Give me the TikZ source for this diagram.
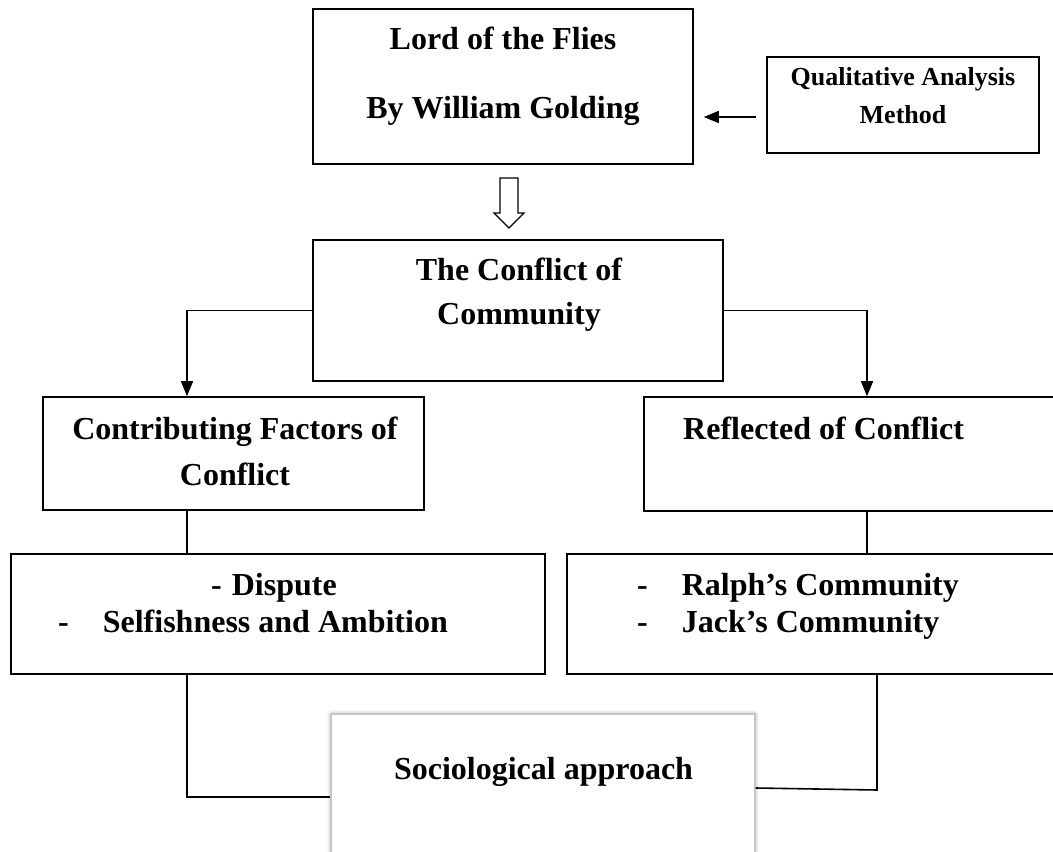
\documentclass[tikz,border=0pt]{standalone}
\usepackage{fontspec}
\setmainfont{Liberation Serif}
\usetikzlibrary{arrows.meta,shadows.blur}

\tikzset{
  box/.style={draw, line width=1.6pt, inner sep=0pt},
  big/.style={font=\fontsize{32}{38}\selectfont\bfseries, inner sep=0pt, anchor=base},
  small/.style={font=\fontsize{26}{30}\selectfont\bfseries, inner sep=0pt, anchor=base},
  arr/.style={line width=1.6pt, -{Triangle[length=15pt,width=12pt]}},
  conn/.style={line width=1.6pt}
}

\begin{document}
\begin{tikzpicture}[x=1pt,y=-1pt]
    \useasboundingbox (0,0) rectangle (1053,852);
    \clip (0,0) rectangle (1053,852);

    % Columns of the vertical connectors
    \coordinate (lcol) at (187,0);
    \coordinate (rcol) at (867,0);
    \coordinate (rcolb) at (877,0);

    % Boxes
    \node[box, minimum width=380, minimum height=155] (lord) at (503,86.5) {};
    \node[box, minimum width=272, minimum height=96] (qual) at (903,105) {};
    \node[box, minimum width=410, minimum height=141] (conflict) at (518,310.5) {};
    \node[box, minimum width=381, minimum height=113] (factors) at (233.5,453.5) {};
    \node[box, minimum width=426, minimum height=114] (reflected) at (857,454) {};
    \node[box, minimum width=534, minimum height=120] (leftlist) at (278,614) {};
    \node[box, minimum width=503, minimum height=120] (rightlist) at (818.5,614) {};
    \node[box, draw=gray!45, line width=1.5pt, fill=white,
          blur shadow={shadow xshift=0pt, shadow yshift=0pt, shadow blur radius=4pt},
          minimum width=424, minimum height=166] (socio) at (543,797) {};

    % Texts
    \node[big] (lordA) at (503,49) {Lord of the Flies};
    \node[big] (lordB) at (503,118) {By William Golding};
    \node[small] (qualA) at (903,85) {Qualitative Analysis};
    \node[small] (qualB) at (903,123) {Method};
    \node[big] (conflictA) at (519,280) {The Conflict of};
    \node[big] (conflictB) at (519,324) {Community};
    \node[big] (factorsA) at (235,439) {Contributing Factors of};
    \node[big] (factorsB) at (235,485) {Conflict};
    \node[big, anchor=base west] (reflectedA) at (683,439) {Reflected of Conflict};
    \node[big, anchor=base west] (leftlistA) at (211,595) {-\hspace{10pt}Dispute};
    \node[big, anchor=base west] (leftlistB) at (58,632) {-\hspace{34pt}Selfishness and Ambition};
    \node[big, anchor=base west] (rightlistA) at (637,595) {-\hspace{34pt}Ralph’s Community};
    \node[big, anchor=base west] (rightlistB) at (637,632) {-\hspace{34pt}Jack’s Community};
    \node[big] (socioA) at (543.5,779) {Sociological approach};

    % Arrows
    \draw[arr] ([xshift=-10pt,yshift=-12pt]qual.west) -- ([xshift=10pt,yshift=-12pt]qual.west -| lord.east);
    \coordinate (hollow) at (509,178);
    \draw[line width=1.2pt, fill=white] (hollow) ++(-9,0) -- ++(18,0) -- ++(0,35) -- ++(6,0)
        -- ++(-15,15) -- ++(-15,-15) -- ++(6,0) -- cycle;
    \draw[arr] (conflict.west) -| (lcol |- factors.north);
    \draw[arr] (conflict.east) -| (rcol |- reflected.north);

    % Connectors
    \draw[conn] (lcol |- factors.south) -- (lcol |- leftlist.north);
    \draw[conn] (rcol |- reflected.south) -- (rcol |- rightlist.north);
    \draw[conn] (lcol |- leftlist.south) |- (socio.west);
    \draw[conn] (rcolb |- rightlist.south) -- (rcolb |- 0,790) -- ([yshift=9pt]socio.east);
\end{tikzpicture}
\end{document}
